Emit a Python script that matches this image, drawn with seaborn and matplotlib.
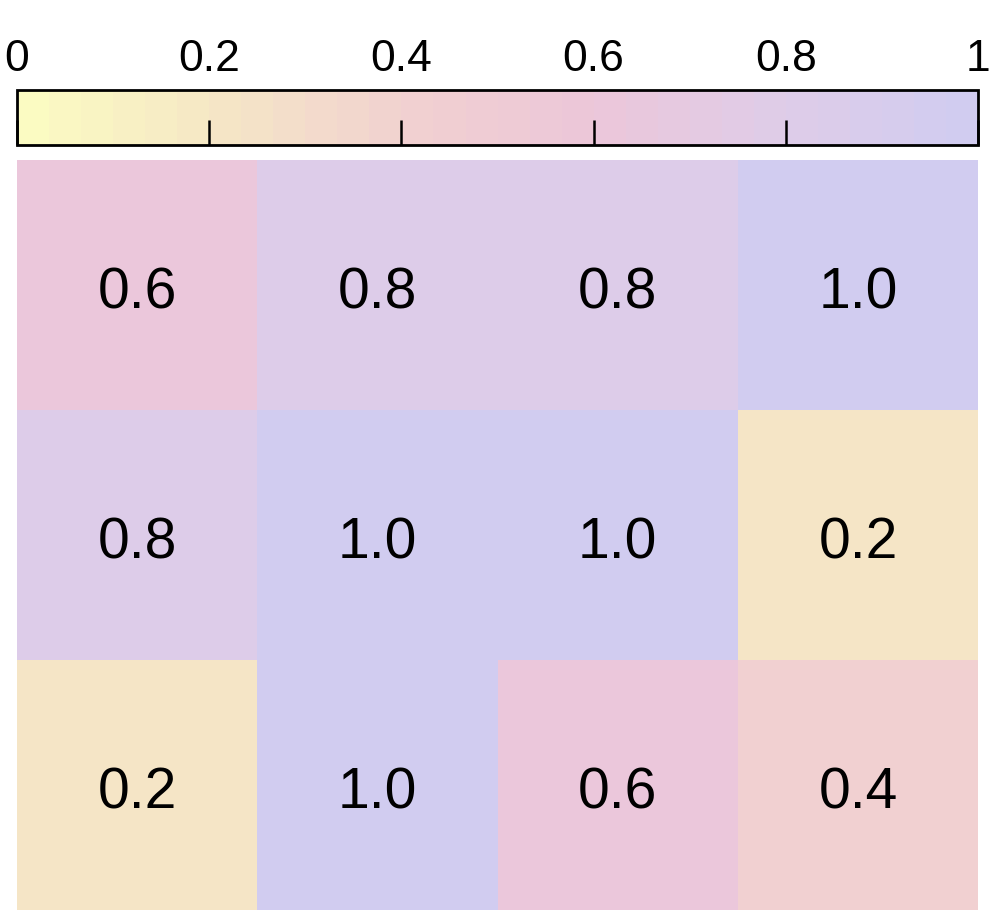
import matplotlib.pyplot as plt
import matplotlib.transforms as mtransforms
import numpy as np
import pandas as pd
import seaborn as sns
from matplotlib.colors import LinearSegmentedColormap

# ── Dados ──────────────────────────────────────────────
row0 = [0.6, 0.8, 0.8, 1.0]
row1 = [0.8, 1.0, 1.0, 0.2]
row2 = [0.2, 1.0, 0.6, 0.4]
col_names = ["c1", "c2", "c3", "c4"]
row_names = ["r1", "r2", "r3"]
cbar_ticks = [0, 0.2, 0.4, 0.6, 0.8, 1]
cbar_labels = ["0", "0.2", "0.4", "0.6", "0.8", "1"]

df = pd.DataFrame([row0, row1, row2], index=row_names, columns=col_names)

# paleta amarelo -> rosa -> lavanda, em 30 degraus
cmap = LinearSegmentedColormap.from_list(
    "yl_pk_lv",
    [
        (0.0, "#fbfbc2"),
        (0.2, "#f5e6c6"),
        (0.4, "#f1d1d0"),
        (0.6, "#ecc6d9"),
        (0.8, "#dfcce8"),
        (1.0, "#d1ccf0"),
    ],
    N=30,
)

sns.set_style("white")
plt.rcParams["font.family"] = ["Liberation Sans", "DejaVu Sans"]

fig = plt.figure(figsize=(9.96, 9.13), dpi=100)
ax = fig.add_axes([0.0171, 0.0033, 0.9649, 0.8215])
cax = fig.add_axes([0.0171, 0.8412, 0.9649, 0.0602])

sns.heatmap(
    df,
    ax=ax,
    cmap=cmap,
    vmin=0,
    vmax=1,
    annot=True,
    fmt=".1f",
    annot_kws={"size": 41, "color": "black"},
    cbar_ax=cax,
    cbar_kws={"orientation": "horizontal", "ticks": cbar_ticks},
    linewidths=0,
)
ax.set_xticks([])
ax.set_yticks([])
ax.set_xlabel("")
ax.set_ylabel("")
for s in ax.spines.values():
    s.set_visible(False)

# descer um pouco os rótulos das células
shift = mtransforms.ScaledTranslation(0, -0.09, fig.dpi_scale_trans)
for t in ax.texts:
    t.set_transform(t.get_transform() + shift)

cbar = ax.collections[0].colorbar
cbar.outline.set_visible(True)
cbar.outline.set_edgecolor("black")
cbar.outline.set_linewidth(2)
cbar.set_ticklabels(cbar_labels)
cax.set_axisbelow(False)
cax.tick_params(
    axis="x",
    bottom=True,
    top=False,
    labelbottom=False,
    labeltop=True,
    direction="in",
    length=18,
    width=1.8,
    color="black",
    labelcolor="black",
    labelsize=32,
    pad=7,
)
cax.set_xlim(0, 1)

fig.savefig("out.png", dpi=100, facecolor="white")
